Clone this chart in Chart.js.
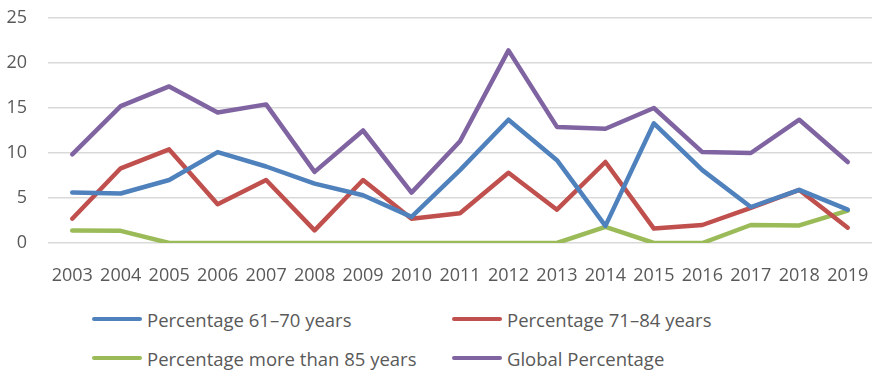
<!DOCTYPE html>
<html>
<head>
<meta charset="utf-8">
<script src="https://cdn.jsdelivr.net/npm/chart.js@4.4.1/dist/chart.umd.min.js"></script>
<style>
  html, body { margin: 0; padding: 0; background: #fff; }
  #wrap { position: relative; width: 872px; height: 370px; font-family: "Open Sans", sans-serif; }
  #box { position: absolute; left: 0; top: 0; width: 872px; height: 300px; }
  .leg { position: absolute; display: flex; align-items: center; font-size: 18.5px; color: #595959; white-space: nowrap; }
  .leg i { display: inline-block; width: 50px; height: 4px; border-radius: 2px; margin-right: 5px; }
</style>
</head>
<body>
<div id="wrap">
  <div id="box"><canvas id="c"></canvas></div>
  <div id="legend"></div>
</div>
<script>
const years = ['2003','2004','2005','2006','2007','2008','2009','2010','2011','2012','2013','2014','2015','2016','2017','2018','2019'];
const pct61to70 = [5.6, 5.5, 7.0, 10.1, 8.5, 6.6, 5.3, 2.9, 8.1, 13.7, 9.2, 1.9, 13.3, 8.1, 4.0, 5.9, 3.7];
const pct71to84 = [2.7, 8.3, 10.4, 4.3, 7.0, 1.4, 7.0, 2.7, 3.3, 7.8, 3.7, 9.0, 1.6, 2.0, 3.9, 5.9, 1.7];
const pctOver85 = [1.4, 1.35, 0, 0, 0, 0, 0, 0, 0, 0, 0, 1.8, 0, 0, 2.0, 1.95, 3.6];
const pctGlobal = [9.85, 15.2, 17.4, 14.5, 15.4, 7.9, 12.5, 5.6, 11.3, 21.4, 12.9, 12.7, 15.0, 10.1, 10.0, 13.7, 9.0];
const yTicks = [0, 5, 10, 15, 20, 25];

const series = [
  { label: 'Percentage 61–70 years', data: pct61to70, color: '#4f81bd' },
  { label: 'Percentage 71–84 years', data: pct71to84, color: '#c0504d' },
  { label: 'Percentage more than 85 years', data: pctOver85, color: '#9bbb59' },
  { label: 'Global Percentage', data: pctGlobal, color: '#8064a2' }
];

const font = { family: '"Open Sans", sans-serif', size: 18 };

const chart = new Chart(document.getElementById('c'), {
  type: 'line',
  data: {
    labels: years,
    datasets: series.map(s => ({
      label: s.label,
      data: s.data,
      borderColor: s.color,
      backgroundColor: s.color,
      borderWidth: 4.5,
      borderJoinStyle: 'round',
      borderCapStyle: 'round',
      pointRadius: 0,
      tension: 0
    }))
  },
  options: {
    responsive: true,
    maintainAspectRatio: false,
    animation: false,
    layout: { padding: { top: 18, right: 0, bottom: 0, left: 0 } },
    plugins: { legend: { display: false }, tooltip: { enabled: false } },
    scales: {
      x: {
        offset: true,
        grid: { display: false },
        border: { display: false },
        ticks: { color: '#595959', font: font, padding: 14, maxRotation: 0, autoSkip: false },
        afterFit: s => { s.height = 57; s.paddingLeft = 0; s.paddingRight = 0; }
      },
      y: {
        min: 0,
        max: 25,
        afterBuildTicks: s => { s.ticks = yTicks.map(v => ({ value: v })); },
        grid: { color: '#d9d9d9', lineWidth: 1.5, drawTicks: false },
        border: { display: false },
        ticks: { color: '#595959', font: font, padding: 21 },
        afterFit: s => { s.width = 48; s.paddingTop = 0; s.paddingBottom = 0; }
      }
    }
  }
});

// two-column legend under the plot
const legendPos = [[92, 319], [452, 319], [92, 358], [452, 358]];
const legend = document.getElementById('legend');
chart.data.datasets.forEach((ds, i) => {
  const item = document.createElement('div');
  item.className = 'leg';
  item.style.left = legendPos[i][0] + 'px';
  item.style.top = (legendPos[i][1] - 13) + 'px';
  item.style.height = '26px';
  item.innerHTML = '<i style="background:' + ds.borderColor + '"></i>' + ds.label;
  legend.appendChild(item);
});
</script>
</body>
</html>
